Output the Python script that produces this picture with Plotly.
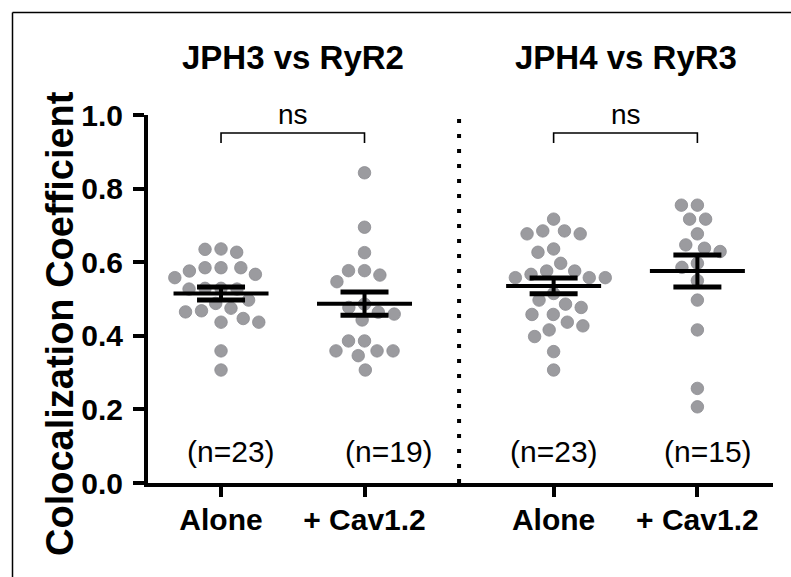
import numpy as np
import plotly.graph_objects as go

# ---------------- data ----------------
categories = ["Alone", "+ Cav1.2", "Alone", "+ Cav1.2"]
panel_titles = ["JPH3 vs RyR2", "JPH4 vs RyR3"]
n_labels = ["(n=23)", "(n=19)", "(n=23)", "(n=15)"]
sig_labels = ["ns", "ns"]
y_ticks = [0.0, 0.2, 0.4, 0.6, 0.8, 1.0]
y_title = "Colocalization Coefficient"

jph3_alone = [0.635, 0.627, 0.636, 0.585, 0.576, 0.585, 0.585, 0.558, 0.567,
              0.527, 0.527, 0.529, 0.529, 0.497, 0.488, 0.468, 0.447, 0.437,
              0.437, 0.465, 0.475, 0.359, 0.307]
jph3_cav = [0.843, 0.695, 0.626, 0.577, 0.565, 0.577, 0.547, 0.486, 0.464,
            0.443, 0.459, 0.477, 0.386, 0.359, 0.359, 0.346, 0.359, 0.386,
            0.307]
jph4_alone = [0.717, 0.685, 0.677, 0.685, 0.677, 0.627, 0.636, 0.597, 0.576,
              0.558, 0.558, 0.558, 0.567, 0.576, 0.515, 0.497, 0.486, 0.477,
              0.458, 0.458, 0.437, 0.427, 0.416, 0.398, 0.357, 0.307]
jph4_cav = [0.755, 0.755, 0.717, 0.717, 0.677, 0.647, 0.629, 0.638, 0.597,
            0.586, 0.550, 0.497, 0.416, 0.257, 0.207]

groups = [jph3_alone, jph3_cav, jph4_alone, jph4_cav]

# ---------------- layout geometry ----------------
W, H = 791, 577
ML, MR, MT, MB = 148, 18, 115, 94
PLOT_W = W - ML - MR
PLOT_H = H - MT - MB
x_pos = [0.0, 1.0, 2.318, 3.32]
x_range = [-0.509, 3.847]
PX_X = PLOT_W / (x_range[1] - x_range[0])
PX_Y = PLOT_H / 1.0

FONT = "Liberation Sans, Arial, sans-serif"
DOT = "#9b9b9f"


def swarm(vals, dist=16.0):
    ypx = np.asarray(vals, dtype=float) * PX_Y
    order = np.argsort(-ypx, kind="stable")
    placed = []
    xs = np.zeros(len(ypx))
    for i in order:
        y = ypx[i]
        near = [(px, py) for px, py in placed if abs(py - y) < dist]
        cands = [0.0]
        for px, py in near:
            dx = np.sqrt(dist * dist - (py - y) ** 2)
            cands += [px + dx, px - dx]
        cands.sort(key=lambda c: (round(abs(c), 6), c))
        for c in cands:
            if all((c - px) ** 2 + (y - py) ** 2 >= dist * dist - 1e-6 for px, py in near):
                xs[i] = c
                break
        placed.append((xs[i], y))
    return xs / PX_X


fig = go.Figure()

for xg, vals in zip(x_pos, groups):
    offs = swarm(vals)
    fig.add_trace(go.Scatter(
        x=xg + offs, y=vals, mode="markers",
        marker=dict(size=12.5, color=DOT, line=dict(width=0.8, color="#8c8c90")),
        hoverinfo="y", showlegend=False))

MEAN_HALF = 47.5 / PX_X
CAP_HALF = 24.0 / PX_X
for xg, vals in zip(x_pos, groups):
    v = np.asarray(vals)
    m = v.mean()
    s = v.std(ddof=1) / np.sqrt(len(v))
    fig.add_trace(go.Scatter(x=[xg - MEAN_HALF, xg + MEAN_HALF], y=[m, m], mode="lines",
                             line=dict(color="black", width=4), showlegend=False, hoverinfo="skip"))
    fig.add_trace(go.Scatter(x=[xg, xg], y=[m - s, m + s], mode="lines",
                             line=dict(color="black", width=4), showlegend=False, hoverinfo="skip"))
    fig.add_trace(go.Scatter(x=[xg - CAP_HALF, xg + CAP_HALF, None, xg - CAP_HALF, xg + CAP_HALF],
                             y=[m + s, m + s, None, m - s, m - s], mode="lines",
                             line=dict(color="black", width=5), showlegend=False, hoverinfo="skip"))

shapes = []
# frame (left + top)
fx = (12.5 - ML) / PLOT_W
fy = (H - MB - 12.5) / PLOT_H
shapes.append(dict(type="line", xref="paper", yref="paper", x0=fx, x1=fx,
                   y0=-(MB + 2) / PLOT_H, y1=fy, line=dict(color="black", width=1.5)))
shapes.append(dict(type="line", xref="paper", yref="paper", x0=fx, x1=(W - ML + 2) / PLOT_W,
                   y0=fy, y1=fy, line=dict(color="black", width=1.5)))
# dotted separator between the two panels
sep_x = (x_pos[1] + x_pos[2]) / 2
shapes.append(dict(type="line", xref="x", yref="y", x0=sep_x, x1=sep_x, y0=0.0, y1=0.99,
                   line=dict(color="black", width=4, dash="4px,11px")))
# significance brackets
annotations = []
for k, (a, b) in enumerate([(x_pos[0], x_pos[1]), (x_pos[2], x_pos[3])]):
    shapes.append(dict(type="path", xref="x", yref="y",
                       path=f"M {a},0.924 L {a},0.951 L {b},0.951 L {b},0.924",
                       line=dict(color="black", width=1.6)))
    annotations.append(dict(x=(a + b) / 2, y=0.955, xref="x", yref="y", text=sig_labels[k],
                            showarrow=False, yanchor="bottom", xanchor="center",
                            font=dict(family=FONT, size=28, color="black")))
    annotations.append(dict(x=(a + b) / 2, y=(H - MB - 57) / PLOT_H, xref="x", yref="paper",
                            text=panel_titles[k], showarrow=False, yanchor="middle",
                            xanchor="center",
                            font=dict(family=FONT, size=33, color="black", weight="bold")))

n_shift_px = [10, 24, 0, 11]
for xg, lab, sh in zip(x_pos, n_labels, n_shift_px):
    annotations.append(dict(x=xg + sh / PX_X, y=0.085, xref="x", yref="y", text=lab,
                            showarrow=False, xanchor="center", yanchor="middle",
                            font=dict(family=FONT, size=30, color="black")))

annotations.append(dict(x=(60 - ML) / PLOT_W, y=(H - MB - 324) / PLOT_H, xref="paper", yref="paper",
                        text=y_title, textangle=-90, showarrow=False, xanchor="center",
                        yanchor="middle",
                        font=dict(family=FONT, size=38, color="black", weight="bold")))

fig.update_layout(
    width=W, height=H,
    margin=dict(l=ML, r=MR, t=MT, b=MB),
    paper_bgcolor="white", plot_bgcolor="white",
    showlegend=False,
    shapes=shapes, annotations=annotations,
    xaxis=dict(range=x_range, tickvals=x_pos, ticktext=categories, showgrid=False,
               zeroline=False, showline=True, linecolor="black", linewidth=4,
               ticks="outside", ticklen=10, tickwidth=4, tickcolor="black",
               ticklabelstandoff=-3,
               tickfont=dict(family=FONT, size=30, color="black", weight="bold")),
    yaxis=dict(range=[0, 1], tickvals=y_ticks, tickformat=".1f", showgrid=False,
               zeroline=False, showline=True, linecolor="black", linewidth=4,
               ticks="outside", ticklen=11, tickwidth=4, tickcolor="black",
               ticklabelstandoff=4,
               tickfont=dict(family=FONT, size=30, color="black", weight="bold")),
)

fig.write_html("out.html", config={"displayModeBar": False},
               post_script="document.body.style.margin='0';document.body.style.padding='0';")
